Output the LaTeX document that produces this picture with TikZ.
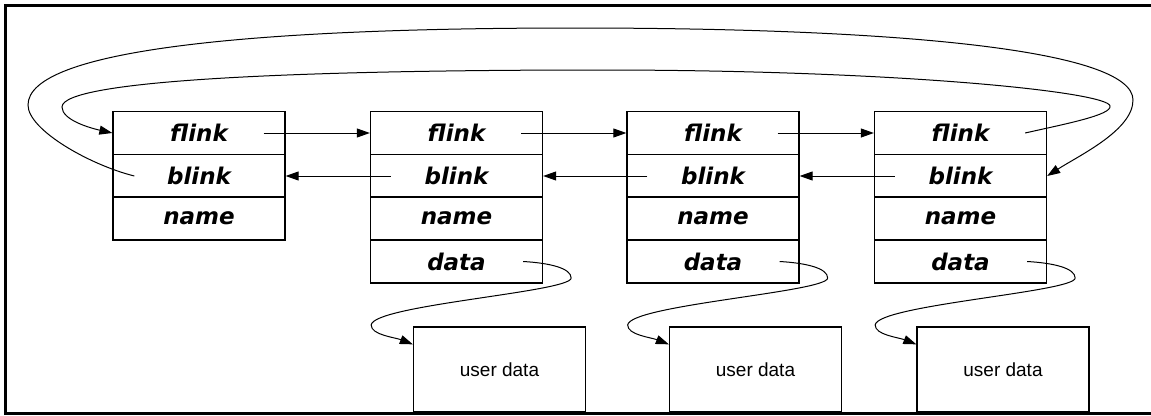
\documentclass[tikz,border=0pt]{standalone}
\usepackage{fontspec}
\setmainfont{Liberation Sans}
\newfontfamily\lblfont{DejaVu Sans Bold Oblique}
\usetikzlibrary{arrows.meta,calc}
\tikzset{
  cell/.style={draw,line width=1.3pt,minimum width=172pt,minimum height=43pt,inner sep=0pt,
    font=\lblfont\fontsize{23}{25}\selectfont},
  ubox/.style={draw,line width=1.3pt,minimum width=172pt,minimum height=85pt,inner sep=0pt,
    font=\fontsize{19}{22}\selectfont},
  link/.style={line width=1pt,-{Triangle[length=13pt,width=9pt]}},
  frameline/.style={line width=3pt},
}
\begin{document}
\begin{tikzpicture}[x=1pt,y=-1pt]
\useasboundingbox (0,0) rectangle (1151,415);
% frame
\draw[frameline] (1151,5.5) -- (5.5,5.5) -- (5.5,414);
\draw[line width=2.5pt] (4,413.5) -- (1151,413.5);
% list elements
\foreach \i/\x in {1/199,2/456.5,3/713,4/960.5}{
  \node[cell] (f\i) at (\x,133) {flink};
  \node[cell] (b\i) at (\x,176) {blink};
  \node[cell] (n\i) at (\x,218.5) {name};
}
\foreach \i/\x in {2/456.5,3/713,4/960.5}{
  \node[cell] (d\i) at (\x,261.5) {data};
}
\node[ubox] (u2) at (499.5,369.5) {user data};
\node[ubox] (u3) at (755.5,369.5) {user data};
\node[ubox] (u4) at (1003,369.5) {user data};
% forward / backward links
\foreach \i/\j in {1/2,2/3,3/4}{
  \draw[link] ($(f\i.east)+(-22,0)$) -- (f\j.west);
  \draw[link] ($(b\j.west)+(21,0)$) -- (b\i.east);
}
% data pointers
\foreach \i in {2,3,4}{
  \draw[link] ($(d\i.east)+(-20,0)$)
    .. controls ($(d\i.east)+(6,1.5)$) and ($(d\i.east)+(28,6.5)$) .. ($(d\i.east)+(28,16.5)$)
    .. controls ($(d\i.east)+(28,30.5)$) and ($(d\i.east)+(-170,43.5)$) .. ($(d\i.east)+(-172,63.5)$)
    .. controls ($(d\i.east)+(-172,73.5)$) and ($(u\i.north west)+(-18,11)$) .. ($(u\i.north west)+(0,18)$);
}
% wrap-around: last flink -> first element
\draw[link] ($(f4.east)+(-22,0)$)
  .. controls (1065,124) and (1112,115) .. (1110,106)
  .. controls (1108,92) and (900,70) .. (600,70)
  .. controls (300,70) and (62,80) .. (62,107)
  .. controls (62,120) and (90,128) .. (f1.west);
% wrap-around: first blink -> last element
\draw[link] ($(b1.west)+(22,0)$)
  .. controls (90,165) and (28,130) .. (28,105)
  .. controls (28,50) and (250,28) .. (575,28)
  .. controls (900,28) and (1133,50) .. (1133,100)
  .. controls (1133,130) and (1080,155) .. (b4.east);
\end{tikzpicture}
\end{document}
